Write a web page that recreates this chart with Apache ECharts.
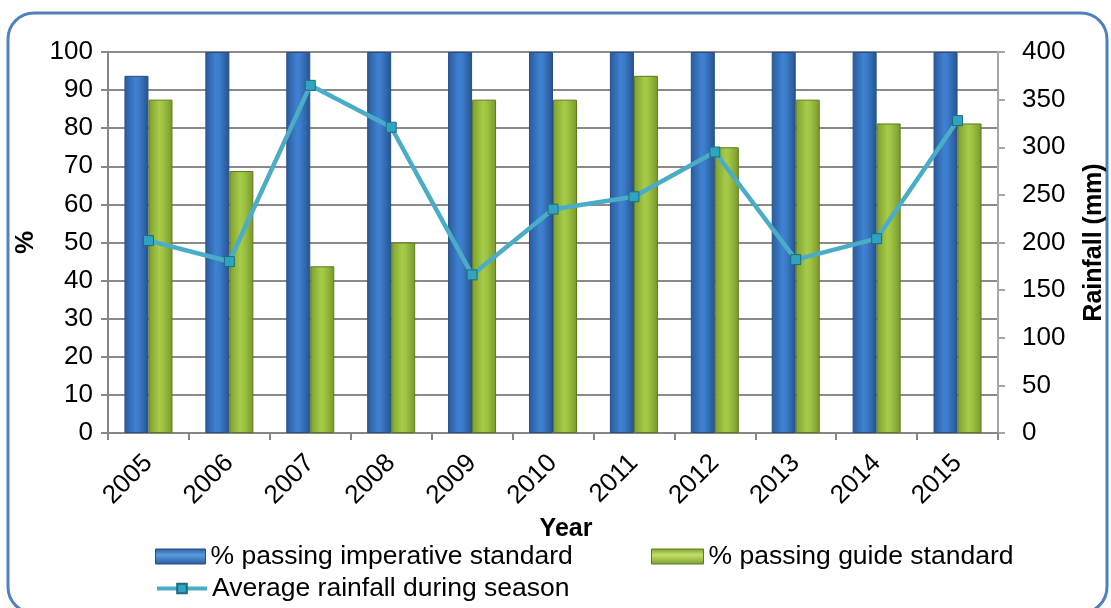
<!DOCTYPE html>
<html>
<head>
<meta charset="utf-8">
<script src="https://cdn.jsdelivr.net/npm/echarts@6/dist/echarts.min.js"></script>
<style>
html,body{margin:0;padding:0;background:#fff;}
#chart{width:1111px;height:608px;}
</style>
</head>
<body>
<div id="chart"></div>
<script>
const years = ['2005','2006','2007','2008','2009','2010','2011','2012','2013','2014','2015'];
const imperative = [93.75, 100, 100, 100, 100, 100, 100, 100, 100, 100, 100];
const guide = [87.5, 68.75, 43.75, 50, 87.5, 87.5, 93.75, 75, 87.5, 81.25, 81.25];
const rainfall = [202, 180, 365, 321, 166, 235, 248, 295, 182, 204, 328];
const leftTicks = {min: 0, max: 100, interval: 10};
const rightTicks = {min: 0, max: 400, interval: 50};

const FONT = '"Liberation Sans", Arial, sans-serif';
const chart = echarts.init(document.getElementById('chart'), null, {renderer: 'canvas'});

const blueGrad = new echarts.graphic.LinearGradient(0, 0, 1, 0, [
  {offset: 0, color: '#2a5a9c'},
  {offset: 0.45, color: '#3f82d2'},
  {offset: 0.6, color: '#3b7bc9'},
  {offset: 1, color: '#27528e'}
]);
const greenGrad = new echarts.graphic.LinearGradient(0, 0, 1, 0, [
  {offset: 0, color: '#7e9f2c'},
  {offset: 0.45, color: '#a6cc49'},
  {offset: 0.6, color: '#9fc443'},
  {offset: 1, color: '#79982a'}
]);
const blueLeg = new echarts.graphic.LinearGradient(0, 0, 0, 1, [
  {offset: 0, color: '#2a5a9c'},
  {offset: 0.4, color: '#5b9be0'},
  {offset: 1, color: '#2a5a9c'}
]);
const greenLeg = new echarts.graphic.LinearGradient(0, 0, 0, 1, [
  {offset: 0, color: '#7e9f2c'},
  {offset: 0.4, color: '#c2e06a'},
  {offset: 1, color: '#7e9f2c'}
]);

const legendText = {fontSize: 26.5, color: '#000', fontFamily: FONT};

chart.setOption({
  animation: false,
  textStyle: {fontFamily: FONT},
  graphic: [{
    type: 'rect',
    shape: {x: 8, y: 13, width: 1099, height: 600, r: 26},
    style: {fill: 'none', stroke: '#4f81bd', lineWidth: 3},
    silent: true, z: -1
  }],
  grid: {left: 108, right: 113, top: 52, bottom: 175, containLabel: false, outerBoundsMode: 'none'},
  legend: [
    {data: [{name: '% passing imperative standard', itemStyle: {color: blueLeg, borderColor: '#264f86', borderWidth: 1}}],
     left: 150, top: 538, itemWidth: 50, itemHeight: 15, icon: 'rect', textStyle: legendText, selectedMode: false},
    {data: [{name: '% passing guide standard', itemStyle: {color: greenLeg, borderColor: '#5e7a20', borderWidth: 1}}],
     left: 646, top: 538, itemWidth: 52, itemHeight: 15, icon: 'rect', textStyle: legendText, selectedMode: false},
    {data: [{name: 'Average rainfall during season', lineStyle: {width: 4, color: '#4bacc6'}}],
     left: 150, top: 570, itemWidth: 50, itemHeight: 12, textStyle: legendText, selectedMode: false}
  ],
  xAxis: {
    type: 'category',
    data: years,
    name: 'Year',
    nameLocation: 'middle',
    nameGap: 76,
    nameTextStyle: {fontSize: 25, fontWeight: 'bold', color: '#000', padding: [0, 0, 0, 26]},
    axisLine: {lineStyle: {color: '#868686', width: 2}},
    axisTick: {show: true, length: 7, lineStyle: {color: '#868686', width: 2}},
    axisLabel: {rotate: 45, fontSize: 26, color: '#000', margin: 26}
  },
  yAxis: [
    {
      type: 'value', min: leftTicks.min, max: leftTicks.max, interval: leftTicks.interval,
      name: '%', nameLocation: 'middle', nameGap: 68, nameRotate: 90,
      nameTextStyle: {fontSize: 26, fontWeight: 'bold', color: '#000'},
      axisLine: {show: true, lineStyle: {color: '#868686', width: 2}},
      axisTick: {show: true, length: 7, lineStyle: {color: '#868686', width: 2}},
      axisLabel: {fontSize: 26, color: '#000', margin: 15},
      splitLine: {show: true, lineStyle: {color: '#8a8a8a', width: 2}}
    },
    {
      type: 'value', min: rightTicks.min, max: rightTicks.max, interval: rightTicks.interval,
      position: 'right',
      name: 'Rainfall (mm)', nameLocation: 'middle', nameGap: 84, nameRotate: 90,
      nameTextStyle: {fontSize: 25, fontWeight: 'bold', color: '#000'},
      axisLine: {show: true, lineStyle: {color: '#a6a6a6', width: 2}},
      axisTick: {show: true, length: 7, lineStyle: {color: '#a6a6a6', width: 2}},
      axisLabel: {fontSize: 26, color: '#000', margin: 24},
      splitLine: {show: false}
    }
  ],
  series: [
    {
      name: '% passing imperative standard', type: 'bar', yAxisIndex: 0,
      data: imperative, barWidth: 24, barGap: '0%',
      itemStyle: {color: blueGrad, borderColor: '#264f86', borderWidth: 1}
    },
    {
      name: '% passing guide standard', type: 'bar', yAxisIndex: 0,
      data: guide, barWidth: 24,
      itemStyle: {color: greenGrad, borderColor: '#5e7a20', borderWidth: 1}
    },
    {
      name: 'Average rainfall during season', type: 'line', yAxisIndex: 1,
      data: rainfall,
      symbol: 'rect', symbolSize: 10,
      lineStyle: {color: '#4bacc6', width: 4.5},
      itemStyle: {color: '#2fa3c0', borderColor: '#1d6b80', borderWidth: 1},
      z: 5
    }
  ]
});
</script>
</body>
</html>
